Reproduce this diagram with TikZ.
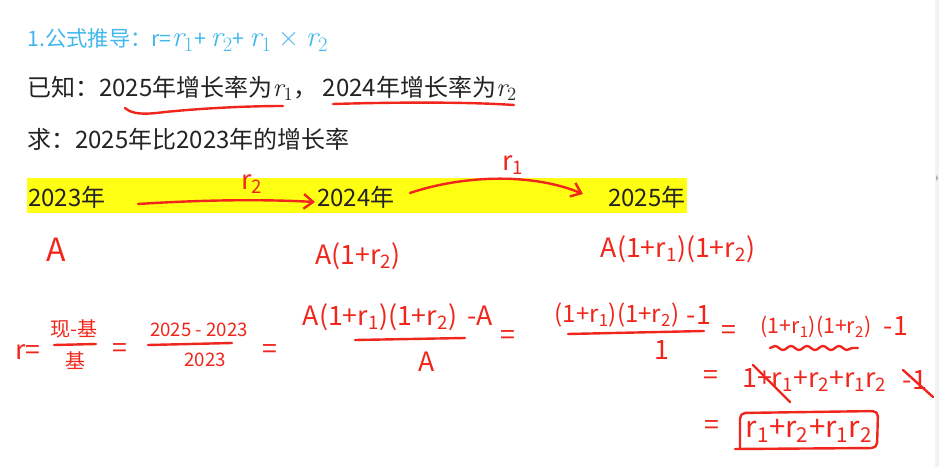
\documentclass[tikz,border=0pt]{standalone}
\usepackage{fontspec}
\setmainfont{Noto Sans CJK SC}
\newfontfamily\lmserif{Latin Modern Roman}
\newcommand\rv[1]{{\lmserif\itshape r}\textsubscript{\lmserif #1}}
\usetikzlibrary{arrows.meta,decorations.pathmorphing}
\definecolor{hred}{RGB}{240,38,28}
\definecolor{tblue}{RGB}{64,184,238}
\definecolor{hiyel}{RGB}{255,255,20}
\definecolor{txt}{RGB}{35,35,35}
\newcommand\bodyfont{\fontsize{18}{22}\selectfont}
\newcommand\hwfont{\fontsize{20}{24}\selectfont}
\newcommand\hwsmall{\fontsize{14}{17}\selectfont}
\newcommand\tmath{\fontsize{22}{24}\selectfont}
\begin{document}
\begin{tikzpicture}[x=0.75pt,y=-0.75pt,
  body/.style={anchor=west,text=txt,font=\bodyfont,inner sep=0pt},
  hw/.style={text=hred,font=\hwfont,inner sep=0pt},
  hws/.style={text=hred,font=\hwsmall,inner sep=0pt},
  hwline/.style={draw=hred,line width=1.8pt,line cap=round,line join=round},
  hwarrow/.style={hwline,-{Straight Barb[length=7pt,width=11pt,line width=1.8pt]}}]
\useasboundingbox (0,0) rectangle (939,467);
\fill[white] (0,0) rectangle (939,467);
% scrollbar
\fill[gray!10] (935,0) rectangle (939,467);
\fill[gray!60] (936,175) -- (938.5,178) -- (936,181) -- cycle;

% title and statement
\node[anchor=west,text=tblue,font=\fontsize{16}{19}\selectfont,inner sep=0pt] (title) at (27,40)
  {1.公式推导：r={\tmath\rv{1}}+\ {\tmath\rv{2}}+\ {\tmath\rv{1}\ {\lmserif ×}\ \rv{2}}};
\node[body] (known) at (27,88) {已知：2025年增长率为{\fontsize{20}{22}\selectfont\rv{1}}，\ 2024年增长率为{\fontsize{20}{22}\selectfont\rv{2}}};
\node[body] (ask) at (27,139) {求：2025年比2023年的增长率};

% underlines
\draw[hwline] (125,108) .. controls (132,114) and (142,115) .. (165,112)
  .. controls (205,108) and (250,106) .. (283,106);
\draw[hwline] (333,104) .. controls (400,102) and (470,102) .. (514,105);

% highlighted timeline
\fill[hiyel] (27,178) rectangle (687,213);
\node[body] (y23) at (28,197) {2023年};
\node[body] (y24) at (317,197) {2024年};
\node[body] (y25) at (608,197) {2025年};

\coordinate (p1) at (138,204);
\coordinate (p2) at (315,202);
\draw[hwarrow] (p1) .. controls (200,200) and (260,199) .. (p2);
\node[hw] (lr2) at (252,184) {r\textsubscript{2}};

\coordinate (q1) at (410,193);
\coordinate (q2) at (583,194);
\draw[hwarrow] (q1) .. controls (460,176) and (530,172) .. (q2);
\node[hw] (lr1) at (513,165) {r\textsubscript{1}};

% values
\node[hw,font=\fontsize{24}{28}\selectfont] (a0) at (56,250) {A};
\node[hw] (a1) at (358,256) {A(1+r\textsubscript{2})};
\node[hw] (a2) at (678,249) {A(1+r\textsubscript{1})(1+r\textsubscript{2})};

% derivation row
\node[hw] (rr) at (28,352) {r=};
\node[hws,font=\fontsize{15}{18}\selectfont] (f1n) at (74,329) {现-基};
\draw[hwline] (54,345) -- (96,344);
\node[hws,font=\fontsize{15}{18}\selectfont] (f1d) at (75,361) {基};

\node[hw] (e1) at (120,351) {=};
\node[hws] (f2n) at (199,330) {2025 - 2023};
\draw[hwline] (148,345) -- (232,343);
\node[hws] (f2d) at (205,360) {2023};

\node[hw] (e2) at (270,352) {=};
\node[hw] (f3n) at (398,317) {A(1+r\textsubscript{1})(1+r\textsubscript{2}) \,-A};
\draw[hwline] (355,340) -- (465,338);
\node[hw] (f3d) at (427,362) {A};

\node[hw] (e3) at (508,338) {=};
\node[hw,font=\fontsize{18}{22}\selectfont] (f4n) at (617,315) {(1+r\textsubscript{1})(1+r\textsubscript{2})};
\node[hw] (f4m) at (699,315) {-1};
\draw[hwline] (568,334) -- (704,331);
\node[hw] (f4d) at (662,350) {1};

\node[hw] (e4) at (729,333) {=};
\node[hw,font=\fontsize{16}{19}\selectfont] (g1) at (816,327) {(1+r\textsubscript{1})(1+r\textsubscript{2})};
\node[hw] (g1m) at (896,326) {-1};
\draw[hwline,decorate,decoration={snake,amplitude=1.5pt,segment length=12pt}] (770,348) -- (858,348);

\node[hw] (e5) at (711,378) {=};
\node[hw,anchor=west] (g2) at (742,380) {1+r\textsubscript{1}+r\textsubscript{2}+r\textsubscript{1}r\textsubscript{2}};
\node[hw] (g2m) at (915,380) {-1};
\draw[hwline] (753,365) -- (790,402);
\draw[hwline] (903,370) -- (933,397);

\node[hw] (e6) at (712,428) {=};
\draw[hwline,rounded corners=4pt] (740,448) -- (740,413) -- (878,411) -- (877,448) -- (735,449);
\node[hw,font=\fontsize{22}{26}\selectfont] (res) at (809,431) {r\textsubscript{1}+r\textsubscript{2}+r\textsubscript{1}r\textsubscript{2}};
\end{tikzpicture}
\end{document}
